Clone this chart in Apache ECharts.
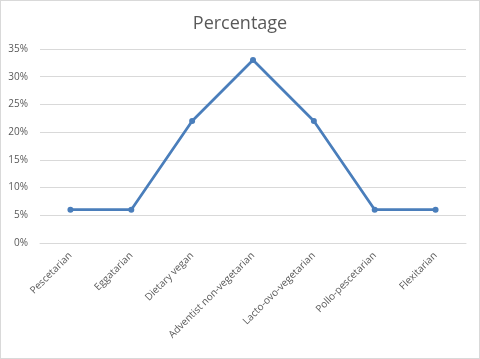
<!DOCTYPE html>
<html><head><meta charset="utf-8">
<script src="https://cdn.jsdelivr.net/npm/echarts@6/dist/echarts.min.js"></script>
<style>html,body{margin:0;padding:0;background:#fff}#c{width:480px;height:359px;box-sizing:border-box;border:1px solid #d9d9d9}</style>
</head><body><div id="c"></div>
<script>
const categories = ["Pescetarian","Eggatarian","Dietary vegan","Adventist non-vegetarian","Lacto-ovo-vegetarian","Pollo-pescetarian","Flexitarian"];
const percentages = [6, 6, 22, 33, 22, 6, 6];
const yTicks = [0, 5, 10, 15, 20, 25, 30, 35];

const chart = echarts.init(document.getElementById('c'), null, {renderer:'canvas'});
chart.setOption({
  animation:false,
  title:{text:'Percentage', left:'center', top:9, textStyle:{fontFamily:'Open Sans', fontSize:18, fontWeight:'normal', color:'#595959'}},
  grid:{left:39, right:13, top:48, bottom:115},
  xAxis:{type:'category', data:categories, boundaryGap:true,
    axisLine:{lineStyle:{color:'#d9d9d9'}}, axisTick:{show:false},
    axisLabel:{rotate:45, color:'#595959', fontFamily:'Open Sans', fontSize:10, margin:11, interval:0}},
  yAxis:{type:'value', min:yTicks[0], max:yTicks[yTicks.length-1], interval:5,
    axisLine:{show:false}, axisTick:{show:false},
    splitLine:{lineStyle:{color:'#d9d9d9'}},
    axisLabel:{formatter:'{value}%', color:'#595959', fontFamily:'Open Sans', fontSize:10, margin:12}},
  series:[{type:'line', data:percentages, symbol:'circle', symbolSize:6,
    lineStyle:{color:'#4A7EBB', width:2.75}, itemStyle:{color:'#4A7EBB'}}]
});
</script></body></html>
